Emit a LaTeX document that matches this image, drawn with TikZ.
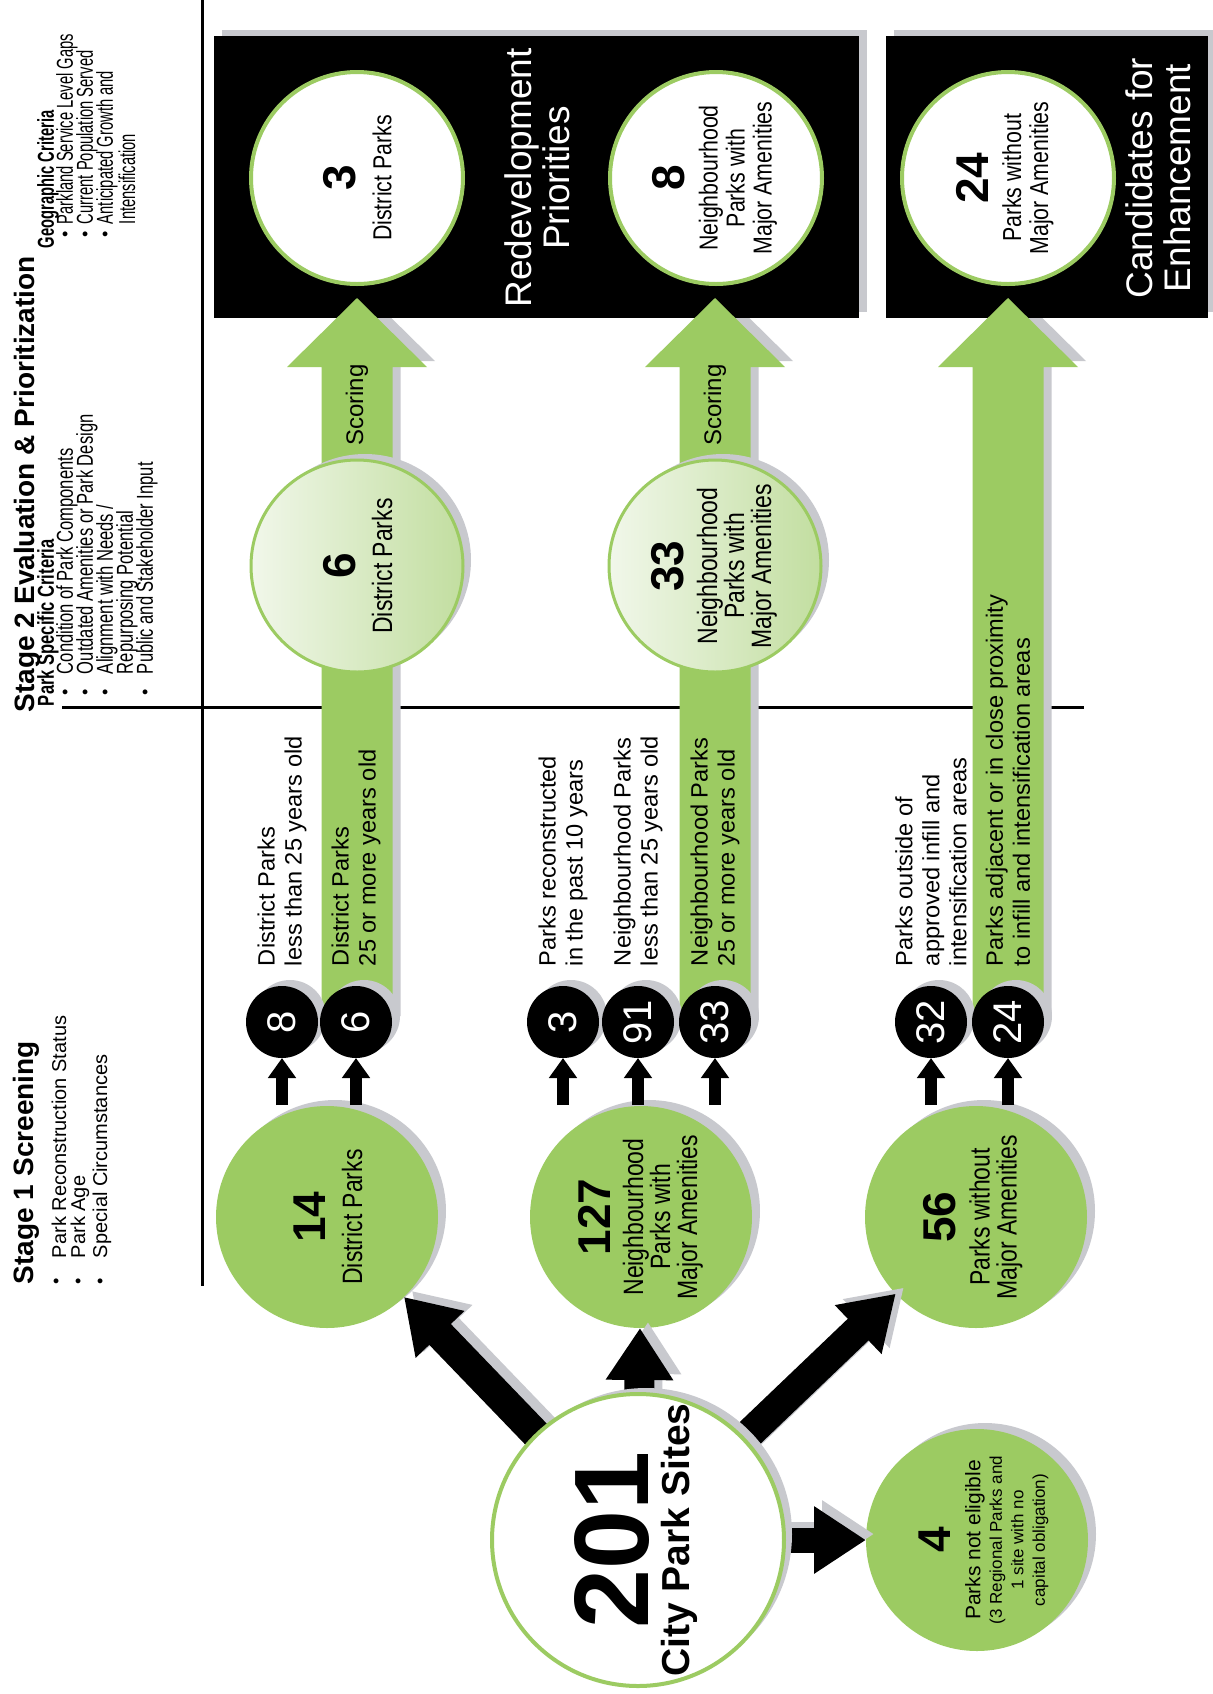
\documentclass[tikz,border=0pt]{standalone}
\usepackage{fontspec}
\setmainfont{Liberation Sans}
\newfontfamily\nar[FakeStretch=0.82]{Liberation Sans}
\newfontfamily\narp[FakeStretch=0.72]{Liberation Sans}
\newfontfamily\narg[FakeStretch=0.64]{Liberation Sans}
\usetikzlibrary{arrows.meta,shadows,calc}
\definecolor{pgreen}{HTML}{9CCB62}
\definecolor{shgray}{HTML}{C8C9CE}
\definecolor{lgreen}{HTML}{F1F7EA}
\definecolor{mgreen}{HTML}{C2DEA0}
\newcommand\fsz[2]{\fontsize{#1}{#2}\selectfont}
\newcommand\garrow[3]{\fill[#3] ({#1-35.5},#2) -- ({#1-35.5},367) -- ({#1-70},367) -- (#1,298) -- ({#1+70},367) -- ({#1+35.5},367) -- ({#1+35.5},#2) -- cycle;}
\begin{document}
\begin{tikzpicture}[x=0.5pt,y=-0.5pt,
  every node/.style={inner sep=0pt, outer sep=0pt},
  shad/.style={drop shadow={shadow xshift=4pt,shadow yshift=3pt,fill=shgray,opacity=1}},
  gcirc/.style={circle, fill=pgreen, minimum size=111pt, shad},
  wcirc/.style={circle, fill=white, draw=pgreen, line width=2pt, minimum size=106pt},
  lcirc/.style={circle, left color=lgreen, right color=mgreen, draw=pgreen, line width=1.5pt, minimum size=106pt, shad},
  bcirc/.style={circle, fill=black, minimum size=36pt, shad},
  numt/.style={rotate=90, font=\bfseries\fsz{23pt}{26pt}},
  ctxt/.style={rotate=90, align=center, font=\nar\fsz{14pt}{13.5pt}},
  wtxt/.style={rotate=90, align=center, font=\nar\fsz{13pt}{13.5pt}},
  snum/.style={rotate=90, text=white, font=\fsz{20pt}{22pt}},
  lab/.style={rotate=90, anchor=west, align=left, font=\fsz{11.8pt}{13.5pt}},
  hdr/.style={rotate=90, anchor=west, font=\bfseries\fsz{14pt}{16pt}},
  sub/.style={rotate=90, anchor=west, font=\narp\bfseries\fsz{11.5pt}{11.5pt}},
  itm/.style={rotate=90, anchor=west, font=\narp\fsz{11.5pt}{11.5pt}},
  subg/.style={rotate=90, anchor=west, font=\narg\bfseries\fsz{11.5pt}{11.5pt}},
  itmg/.style={rotate=90, anchor=west, font=\narg\fsz{11.5pt}{11.5pt}},
  sitm/.style={rotate=90, anchor=west, font=\fsz{10pt}{11pt}},
  bul/.style={rotate=90, font=\fsz{9pt}{10pt}},
  bigt/.style={rotate=90, align=center, text=white, font=\fsz{18.5pt}{19pt}},
  barrow/.style={line width=15pt, -{Triangle[width=32pt,length=26pt]}},
  sarrow/.style={line width=6pt, -{Triangle[width=13.5pt,length=10pt]}},
]
\useasboundingbox (0,0) rectangle (1212,1694);
\fill[white] (0,0) rectangle (1212,1694);

% dividing lines
\coordinate (vt) at (202,0); \coordinate (vb) at (202,1286);
\coordinate (hl) at (62,707); \coordinate (hr) at (1084,707);
\draw[line width=1.5pt] (vt) -- (vb);
\draw[line width=1.5pt] (hl) -- (hr);

% green arrow shadows
\begin{scope}[transform canvas={xshift=4pt,yshift=3pt}]
\garrow{357}{1022}{shgray}
\garrow{715}{1022}{shgray}
\garrow{1008}{1022}{shgray}
\end{scope}

% black boxes
\node[rectangle, fill=black, minimum width=322.5pt, minimum height=141pt, shad] (box1) at (536.5,177) {};
\node[rectangle, fill=black, minimum width=161pt, minimum height=141pt, shad] (box2) at (1047,177) {};

% green arrows
\garrow{357}{1022}{pgreen}
\garrow{715}{1022}{pgreen}
\garrow{1008}{1022}{pgreen}

% white circles in boxes
\node[wcirc] (w3) at (357,178) {};
\node[numt] (w3n) at (340,178) {3};
\node[wtxt] (w3t) at (382,178) {District Parks};
\node[wcirc] (w8) at (716,178) {};
\node[numt] (w8n) at (669,178) {8};
\node[wtxt] (w8t) at (738,178) {Neighbourhood\\Parks with\\Major Amenities};
\node[wcirc] (w24) at (1008,178) {};
\node[numt] (w24n) at (972,178) {24};
\node[wtxt] (w24t) at (1028,178) {Parks without\\Major Amenities};
\node[bigt] (redev) at (537,178) {Redevelopment\\Priorities};
\node[bigt] (cand) at (1158,178) {Candidates for\\Enhancement};

% light circles
\node[lcirc] (l6) at (357,566) {};
\node[numt] (l6n) at (340,566) {6};
\node[ctxt] (l6t) at (382,566) {District Parks};
\node[lcirc] (l33) at (715,566) {};
\node[numt] (l33n) at (668,566) {33};
\node[ctxt] (l33t) at (737,566) {Neighbourhood\\Parks with\\Major Amenities};
\node[rotate=90, font=\fsz{12pt}{13pt}] (sc1) at (357,405) {Scoring};
\node[rotate=90, font=\fsz{12pt}{13pt}] (sc2) at (715,405) {Scoring};

% mid circles
\node[gcirc] (m14) at (327,1217) {};
\node[numt] (m14n) at (310,1217) {14};
\node[ctxt] (m14t) at (352,1217) {District Parks};
\node[gcirc] (m127) at (641,1217) {};
\node[numt] (m127n) at (594,1217) {127};
\node[ctxt] (m127t) at (663,1217) {Neighbourhood\\Parks with\\Major Amenities};
\node[gcirc] (m56) at (976,1217) {};
\node[numt] (m56n) at (940,1217) {56};
\node[ctxt] (m56t) at (996,1217) {Parks without\\Major Amenities};
\node[gcirc] (m4) at (977,1540) {};
\node[numt] (m4n) at (935,1540) {4};
\node[rotate=90, font=\fsz{10.5pt}{11pt}] (m4t) at (975,1540) {Parks not eligible};
\node[rotate=90, align=center, font=\fsz{8.5pt}{10.75pt}] (m4s) at (1019,1540) {(3 Regional Parks and\\1 site with no\\capital obligation)};

% small black circles
\node[bcirc] (s8) at (282,1022) {};
\node[bcirc] (s6) at (356,1022) {};
\node[bcirc] (s3) at (563,1022) {};
\node[bcirc] (s91) at (638,1022) {};
\node[bcirc] (s33) at (715,1022) {};
\node[bcirc] (s32) at (931,1022) {};
\node[bcirc] (s24) at (1008,1022) {};
\node[snum] (s8n) at (s8) {8};
\node[snum] (s6n) at (s6) {6};
\node[snum] (s3n) at (s3) {3};
\node[snum] (s91n) at (s91) {91};
\node[snum] (s33n) at (s33) {33};
\node[snum] (s32n) at (s32) {32};
\node[snum] (s24n) at (s24) {24};

% small arrows
\foreach \s in {s8,s6,s3,s91,s33,s32,s24}{
  \draw[sarrow] ($(\s.south)+(0,47)$) -- (\s.south);
}

% labels
\node[lab] (l8) at (282,966) {District Parks\\less than 25 years old};
\node[lab] (lb6) at (356,966) {District Parks\\25 or more years old};
\node[lab] (l3) at (563,966) {Parks reconstructed\\in the past 10 years};
\node[lab] (l91) at (638,966) {Neighbourhood Parks\\less than 25 years old};
\node[lab] (lb33) at (715,966) {Neighbourhood Parks\\25 or more years old};
\node[lab] (l32) at (931,966) {Parks outside of\\approved infill and\\intensification areas};
\node[lab] (l24) at (1008,966) {Parks adjacent or in close proximity\\to infill and intensification areas};

% big circle
\coordinate (c201c) at (638,1540);
\node[circle, minimum size=148pt] (c201) at (c201c) {};

% black arrows
\begin{scope}[transform canvas={xshift=4pt,yshift=3pt}]
\draw[barrow, shgray] (c201.center) -- (m14);
\draw[barrow, shgray] (c201.center) -- (m127);
\draw[barrow, shgray] (c201.center) -- (m56);
\draw[barrow, shgray, line width=12.5pt] (c201.center) -- (m4);
\end{scope}
\draw[barrow] (c201.center) -- (m14);
\draw[barrow] (c201.center) -- (m127);
\draw[barrow] (c201.center) -- (m56);
\draw[barrow, line width=12.5pt] (c201.center) -- (m4);

\node[circle, fill=white, draw=pgreen, line width=2pt, minimum size=146pt, shad] (c201b) at (c201c) {};
\node[rotate=90, font=\bfseries\fsz{53pt}{54pt}] (n201) at (612,1540) {201};
\node[rotate=90, font=\bfseries\fsz{19.5pt}{22pt}] (cps) at (679,1540) {City Park Sites};

% headers
\node[hdr] (t2) at (27,712) {Stage 2 Evaluation \& Prioritization};
\node[sub] (psc) at (48,706) {Park Specific Criteria};
\node[bul] (pb1) at (67,692) {•};
\node[itm] (p1) at (67,674) {Condition of Park Components};
\node[bul] (pb2) at (87,692) {•};
\node[itm] (p2) at (87,674) {Outdated Amenities or Park Design};
\node[bul] (pb3) at (107,692) {•};
\node[itm] (p3) at (107,674) {Alignment with Needs /};
\node[itm] (p4) at (127,674) {Repurposing Potential};
\node[bul] (pb5) at (147,692) {•};
\node[itm] (p5) at (147,674) {Public and Stakeholder Input};

\node[subg] (gc) at (48,248) {Geographic Criteria};
\node[bul] (gb1) at (67,234) {•};
\node[itmg] (g1) at (67,224) {Parkland Service Level Gaps};
\node[bul] (gb2) at (87,234) {•};
\node[itmg] (g2) at (87,224) {Current Population Served};
\node[bul] (gb3) at (107,234) {•};
\node[itmg] (g3) at (107,224) {Anticipated Growth and};
\node[itmg] (g4) at (127,224) {Intensification};

\node[hdr] (t1) at (26,1284) {Stage 1 Screening};
\node[bul] (sb1) at (58,1281) {•};
\node[sitm] (s1a) at (59,1258) {Park Reconstruction Status};
\node[bul] (sb2) at (80,1281) {•};
\node[sitm] (s1b) at (80,1258) {Park Age};
\node[bul] (sb3) at (102,1281) {•};
\node[sitm] (s1c) at (102,1258) {Special Circumstances};
\end{tikzpicture}
\end{document}
